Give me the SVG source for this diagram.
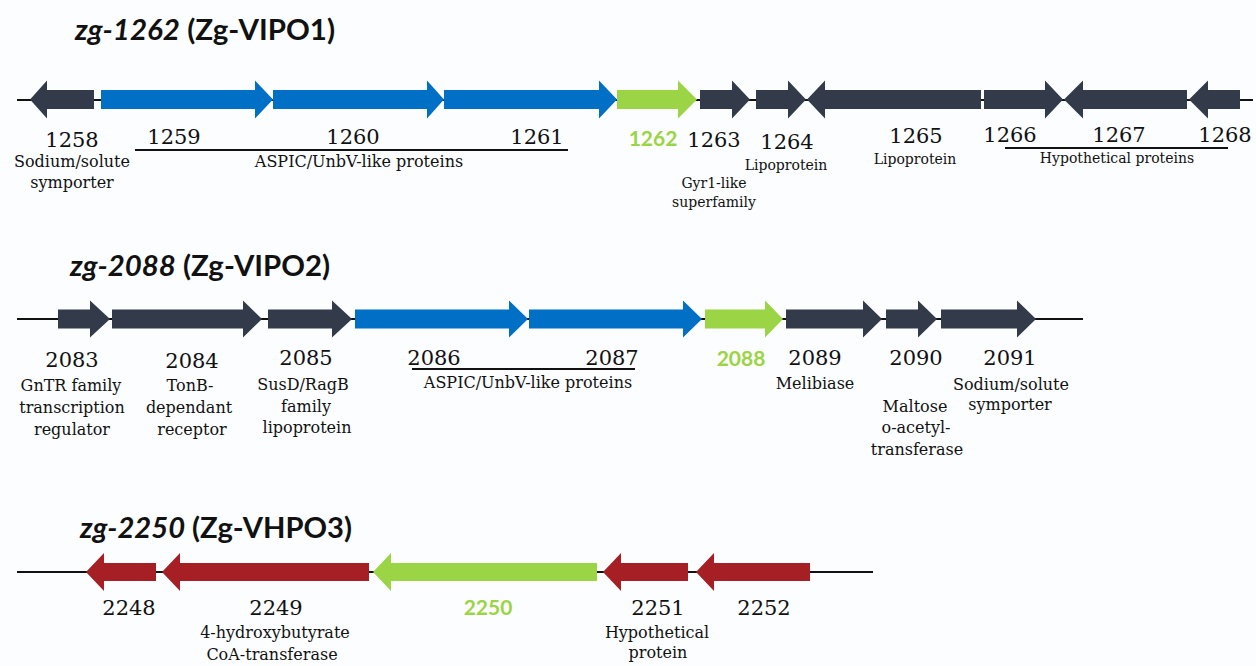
<svg xmlns="http://www.w3.org/2000/svg" width="1256" height="666" viewBox="0 0 1256 666">
<style>
.bg{fill:#fbfdff}
.dark{fill:#333b4b}
.blue{fill:#0070c6}
.green{fill:#9bd444}
.red{fill:#a51f24}
.bb{stroke:#111;stroke-width:2;fill:none}
.ul{stroke:#111;stroke-width:2;fill:none}
.title{font-family:"Lato","Open Sans",sans-serif;font-weight:700;font-size:28px;fill:#111}
.num{font-family:"DejaVu Serif",serif;font-size:21px;fill:#111;text-anchor:middle}
.gnum{font-family:"Lato","Open Sans",sans-serif;font-weight:700;font-size:21px;fill:#9bd444;text-anchor:middle}
.l16{font-family:"DejaVu Serif",serif;font-size:16px;fill:#111;text-anchor:middle}
.l14{font-family:"DejaVu Serif",serif;font-size:14px;fill:#111;text-anchor:middle}
</style>
<rect class="bg" x="0" y="0" width="1256" height="666"/>

<g id="titles">
<text class="title" x="75" y="40" textLength="260" lengthAdjust="spacingAndGlyphs"><tspan font-style="italic">zg-1262</tspan> (Zg-VIPO1)</text>
<text class="title" x="70" y="276" textLength="260" lengthAdjust="spacingAndGlyphs"><tspan font-style="italic">zg-2088</tspan> (Zg-VIPO2)</text>
<text class="title" x="80" y="538" textLength="272" lengthAdjust="spacingAndGlyphs"><tspan font-style="italic">zg-2250</tspan> (Zg-VHPO3)</text>
</g>

<g id="connectors">
<line class="bb" x1="17" y1="100" x2="1253" y2="100"/>
<line class="bb" x1="17" y1="319" x2="1083" y2="319"/>
<line class="bb" x1="17" y1="572" x2="873" y2="572"/>
<line class="ul" x1="135" y1="150" x2="568" y2="150"/>
<line class="ul" x1="1005" y1="148" x2="1228" y2="148"/>
<line class="ul" x1="412" y1="369" x2="635" y2="369"/>
</g>

<!-- Row 1 -->
<g id="g1258"><polygon class="dark" points="30,99.5 47,80.5 47,90 94,90 94,109 47,109 47,118.5"/>
<text class="num" x="72" y="147">1258</text><text class="l16" x="72" y="167">Sodium/solute</text><text class="l16" x="72" y="188">symporter</text></g>
<g id="g1259"><polygon class="blue" points="101,90 255,90 255,80.5 273,99.5 255,118.5 255,109 101,109"/>
<text class="num" x="174" y="144">1259</text></g>
<g id="g1260"><polygon class="blue" points="273,90 427,90 427,80.5 444,99.5 427,118.5 427,109 273,109"/>
<text class="num" x="353" y="144">1260</text><text class="l16" x="359" y="167">ASPIC/UnbV-like proteins</text></g>
<g id="g1261"><polygon class="blue" points="444,90 599,90 599,80.5 617,99.5 599,118.5 599,109 444,109"/>
<text class="num" x="537" y="144">1261</text></g>
<g id="g1262"><polygon class="green" points="617,90 678,90 678,80.5 697,99.5 678,118.5 678,109 617,109"/>
<text class="gnum" x="653" y="146">1262</text></g>
<g id="g1263"><polygon class="dark" points="700,90 732,90 732,80.5 750,99.5 732,118.5 732,109 700,109"/>
<text class="num" x="714" y="147">1263</text><text class="l14" x="714" y="188">Gyr1-like</text><text class="l14" x="714" y="207">superfamily</text></g>
<g id="g1264"><polygon class="dark" points="756,90 788,90 788,80.5 806,99.5 788,118.5 788,109 756,109"/>
<text class="num" x="787" y="149">1264</text><text class="l14" x="786" y="170">Lipoprotein</text></g>
<g id="g1265"><polygon class="dark" points="807,99.5 825,80.5 825,90 981,90 981,109 825,109 825,118.5"/>
<text class="num" x="916" y="143">1265</text><text class="l14" x="915" y="164">Lipoprotein</text></g>
<g id="g1266"><polygon class="dark" points="984,90 1045,90 1045,80.5 1063,99.5 1045,118.5 1045,109 984,109"/>
<text class="num" x="1010" y="142">1266</text></g>
<g id="g1267"><polygon class="dark" points="1064,99.5 1083,80.5 1083,90 1187,90 1187,109 1083,109 1083,118.5"/>
<text class="num" x="1119" y="142">1267</text><text class="l14" x="1117" y="163">Hypothetical proteins</text></g>
<g id="g1268"><polygon class="dark" points="1189,99.5 1208,80.5 1208,90 1240,90 1240,109 1208,109 1208,118.5"/>
<text class="num" x="1225" y="142">1268</text></g>

<!-- Row 2 -->
<g id="g2083"><polygon class="dark" points="58,309.5 90,309.5 90,300.5 110,319 90,337.5 90,328.5 58,328.5"/>
<text class="num" x="72" y="367">2083</text><text class="l16" x="71" y="391">GnTR family</text><text class="l16" x="72" y="413">transcription</text><text class="l16" x="72" y="435">regulator</text></g>
<g id="g2084"><polygon class="dark" points="112,309.5 243,309.5 243,300.5 262,319 243,337.5 243,328.5 112,328.5"/>
<text class="num" x="192" y="368">2084</text><text class="l16" x="190" y="391">TonB-</text><text class="l16" x="189" y="413">dependant</text><text class="l16" x="192" y="435">receptor</text></g>
<g id="g2085"><polygon class="dark" points="268,309.5 332,309.5 332,300.5 352,319 332,337.5 332,328.5 268,328.5"/>
<text class="num" x="306" y="365">2085</text><text class="l16" x="303" y="390">SusD/RagB</text><text class="l16" x="306" y="412">family</text><text class="l16" x="307" y="433">lipoprotein</text></g>
<g id="g2086"><polygon class="blue" points="355,309.5 509,309.5 509,300.5 528,319 509,337.5 509,328.5 355,328.5"/>
<text class="num" x="434" y="365">2086</text><text class="l16" x="528" y="388">ASPIC/UnbV-like proteins</text></g>
<g id="g2087"><polygon class="blue" points="529,309.5 683,309.5 683,300.5 702,319 683,337.5 683,328.5 529,328.5"/>
<text class="num" x="612" y="365">2087</text></g>
<g id="g2088"><polygon class="green" points="705,309.5 765,309.5 765,300.5 783,319 765,337.5 765,328.5 705,328.5"/>
<text class="gnum" x="741" y="366">2088</text></g>
<g id="g2089"><polygon class="dark" points="786,309.5 863,309.5 863,300.5 882,319 863,337.5 863,328.5 786,328.5"/>
<text class="num" x="815" y="365">2089</text><text class="l16" x="815" y="389">Melibiase</text></g>
<g id="g2090"><polygon class="dark" points="886,309.5 918,309.5 918,300.5 937,319 918,337.5 918,328.5 886,328.5"/>
<text class="num" x="916" y="365">2090</text><text class="l16" x="915" y="412">Maltose</text><text class="l16" x="916" y="433">o-acetyl-</text><text class="l16" x="917" y="455">transferase</text></g>
<g id="g2091"><polygon class="dark" points="941,309.5 1017,309.5 1017,300.5 1036,319 1017,337.5 1017,328.5 941,328.5"/>
<text class="num" x="1010" y="365">2091</text><text class="l16" x="1011" y="390">Sodium/solute</text><text class="l16" x="1010" y="410">symporter</text></g>

<!-- Row 3 -->
<g id="g2248"><polygon class="red" points="86,572 104,553 104,563 156,563 156,581 104,581 104,591"/>
<text class="num" x="129" y="615">2248</text></g>
<g id="g2249"><polygon class="red" points="162,572 180,553 180,563 369,563 369,581 180,581 180,591"/>
<text class="num" x="276" y="615">2249</text><text class="l16" x="275" y="638">4-hydroxybutyrate</text><text class="l16" x="272" y="660">CoA-transferase</text></g>
<g id="g2250"><polygon class="green" points="373,572 391,553 391,563 597,563 597,581 391,581 391,591"/>
<text class="gnum" x="488" y="615">2250</text></g>
<g id="g2251"><polygon class="red" points="603,572 621,553 621,563 688,563 688,581 621,581 621,591"/>
<text class="num" x="658" y="615">2251</text><text class="l16" x="657" y="638">Hypothetical</text><text class="l16" x="658" y="658">protein</text></g>
<g id="g2252"><polygon class="red" points="696,572 714,553 714,563 810,563 810,581 714,581 714,591"/>
<text class="num" x="764" y="615">2252</text></g>
</svg>
